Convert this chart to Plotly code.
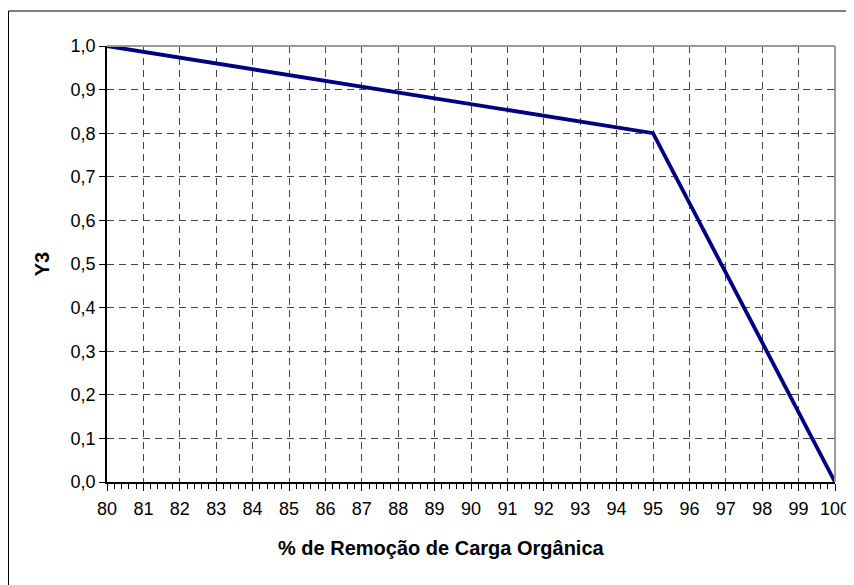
import plotly.graph_objects as go

x_vals = [80, 95, 100]
y_vals = [1.0, 0.8, 0.0]
x_title = "% de Remoção de Carga Orgânica"
y_title = "Y3"

fig = go.Figure()
fig.add_trace(go.Scatter(x=x_vals, y=y_vals, mode="lines",
                         line=dict(color="#000080", width=3.8), showlegend=False,
                         cliponaxis=False))

# page has an 8px body margin, so the figure is offset by 8px
W, H = 846, 577
L, R, T, B = 99, 19, 38, 103
pw, ph = W - L - R, H - T - B
FONT = "Liberation Sans, Arial, sans-serif"

fig.update_layout(
    width=W, height=H,
    margin=dict(l=L, r=R, t=T, b=B, autoexpand=False),
    paper_bgcolor="white", plot_bgcolor="white",
    separators=",.",
    font=dict(family=FONT, size=18, color="black"),
)
fig.update_xaxes(
    range=[80, 100], dtick=1, tick0=80, automargin=False,
    showline=True, linecolor="black", linewidth=1.5,
    ticks="outside", ticklen=7, tickcolor="black", tickwidth=1,
    showgrid=True, gridcolor="#444444", griddash="7px,5px", gridwidth=1,
    zeroline=False,
    minor=dict(dtick=0.2, ticks="outside", ticklen=5, tickcolor="black", showgrid=False),
    ticklabelstandoff=3,
    tickfont=dict(size=18),
)
fig.update_yaxes(
    range=[0, 1.0], dtick=0.1, tickformat=".1f", automargin=False,
    showline=True, linecolor="black", linewidth=1.5,
    ticks="outside", ticklen=6, tickcolor="black",
    showgrid=True, gridcolor="#444444", griddash="7px,5px", gridwidth=1,
    zeroline=False,
    title=dict(text=y_title, font=dict(size=20, family=FONT, weight="bold"), standoff=16),
    tickfont=dict(size=18),
)
# x-axis title (offset left of plot centre, as in the original)
fig.add_annotation(text="<b>" + x_title + "</b>", xref="paper", yref="paper",
                   x=(433 - L) / pw, y=-(540 - (T + ph)) / ph,
                   xanchor="center", yanchor="middle", showarrow=False,
                   font=dict(size=20, family=FONT, color="black"))
# gray top/right border of plot area
fig.add_shape(type="line", xref="paper", yref="paper", x0=0, x1=1, y0=1, y1=1,
              line=dict(color="#999999", width=2))
fig.add_shape(type="line", xref="paper", yref="paper", x0=1, x1=1, y0=0, y1=1,
              line=dict(color="#999999", width=2))
# outer chart border (left and top)
bx = (0.5 - L) / pw
by = 1 + (T - 3) / ph
fig.add_shape(type="line", xref="paper", yref="paper",
              x0=bx, x1=bx, y0=by, y1=-(B + 20) / ph,
              line=dict(color="black", width=1))
fig.add_shape(type="line", xref="paper", yref="paper",
              x0=bx, x1=1 + (R + 20) / pw, y0=by, y1=by,
              line=dict(color="black", width=1))

fig.write_html("out.html")
